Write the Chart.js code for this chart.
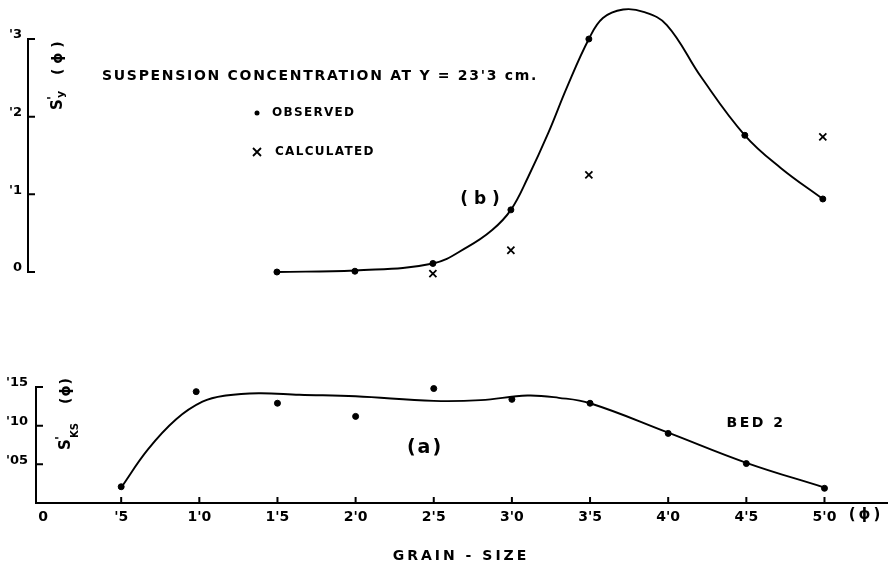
<!DOCTYPE html>
<html>
<head>
<meta charset="utf-8">
<script src="https://cdn.jsdelivr.net/npm/chart.js@4.4.1/dist/chart.umd.min.js"></script>
<style>
  body { margin: 0; background: #fff; }
  #wrap { position: relative; width: 892px; height: 568px; }
  canvas { position: absolute; left: 0; }
  #suspChart { top: 0; }
  #bedChart { top: 300px; }
</style>
</head>
<body>
<div id="wrap">
  <canvas id="suspChart" width="892" height="300"></canvas>
  <canvas id="bedChart" width="892" height="268"></canvas>
</div>
<script>
// (b) suspension concentration at y = 23.3 cm
const suspGrain = [1.5, 2.0, 2.5, 3.0, 3.5, 4.0, 4.5, 5.0];
const suspObserved = [0.000, 0.001, 0.011, 0.080, 0.300, 0.318, 0.176, 0.094];
const calcGrain = [2.5, 3.0, 3.5, 4.0, 4.5, 5.0];
const suspCalculated = [-0.002, 0.028, 0.125, 0.330, 0.313, 0.174];
// hand drawn curve of (b)
const suspCurveX = [1.5, 2.0, 2.5, 2.72, 2.88, 3.0, 3.11, 3.24, 3.36, 3.5, 3.59, 3.72, 3.85, 4.0, 4.22, 4.5, 4.73, 5.0];
const suspCurveY = [0.000, 0.002, 0.011, 0.032, 0.054, 0.080, 0.122, 0.179, 0.238, 0.300, 0.327, 0.338, 0.335, 0.318, 0.251, 0.176, 0.134, 0.094];

// (a) bed 2
const bedGrain = [0.5, 0.98, 1.5, 2.0, 2.5, 3.0, 3.5, 4.0, 4.5, 5.0];
const bedObserved = [0.021, 0.144, 0.129, 0.112, 0.148, 0.134, 0.129, 0.090, 0.051, 0.019];
// hand drawn curve of (a)
const bedCurveX = [0.5, 0.67, 0.85, 1.02, 1.17, 1.38, 1.64, 2.0, 2.5, 2.8, 3.1, 3.3, 3.5, 4.0, 4.5, 5.0];
const bedCurveY = [0.020, 0.069, 0.108, 0.131, 0.139, 0.142, 0.140, 0.138, 0.132, 0.133, 0.139, 0.136, 0.129, 0.091, 0.052, 0.020];

// tick labels
const xTicks = [0, 0.5, 1.0, 1.5, 2.0, 2.5, 3.0, 3.5, 4.0, 4.5, 5.0];
const xTickLabels = ['0', "'5", "1'0", "1'5", "2'0", "2'5", "3'0", "3'5", "4'0", "4'5", "5'0"];
const suspTicks = [0, 0.1, 0.2, 0.3];
const suspTickLabels = ['0', "'1", "'2", "'3"];
const bedTicks = [0.05, 0.10, 0.15];
const bedTickLabels = ["'05", "'10", "'15"];

const FONT = '"DejaVu Sans", sans-serif';

function pts(xs, ys) {
    return xs.map((x, i) => ({ x: x, y: ys[i] }));
}

// short tick marks drawn inward from the axis lines
const inwardTicks = {
    id: 'inwardTicks',
    afterDraw(chart, args, opts) {
        const ctx = chart.ctx;
        const area = chart.chartArea;
        ctx.save();
        ctx.strokeStyle = '#000';
        ctx.lineWidth = 2;
        ctx.beginPath();
        const ys = chart.scales.y;
        ys.ticks.forEach(t => {
            const py = ys.getPixelForValue(t.value);
            ctx.moveTo(area.left, py);
            ctx.lineTo(area.left + 7, py);
        });
        if (opts.xAxis) {
            const xs = chart.scales.x;
            xs.ticks.forEach(t => {
                if (t.value === 0) return;
                const px = xs.getPixelForValue(t.value);
                ctx.moveTo(px, area.bottom);
                ctx.lineTo(px, area.bottom - 6);
            });
        }
        ctx.stroke();
        ctx.restore();
    }
};

// free text of the figure
const notes = {
    id: 'notes',
    afterDraw(chart, args, opts) {
        const ctx = chart.ctx;
        ctx.save();
        ctx.fillStyle = '#000';
        ctx.strokeStyle = '#000';
        ctx.textBaseline = 'middle';
        opts.items.forEach(it => {
            ctx.font = 'bold ' + it.size + 'px ' + FONT;
            ctx.letterSpacing = (it.spacing || 0) + 'px';
            ctx.textAlign = it.align || 'left';
            if (it.rotate) {
                ctx.save();
                ctx.translate(it.x, it.y);
                ctx.rotate(-Math.PI / 2);
                it.parts.forEach(p => {
                    ctx.font = 'bold ' + p.size + 'px ' + FONT;
                    ctx.letterSpacing = (p.spacing || 0) + 'px';
                    ctx.textAlign = 'left';
                    ctx.fillText(p.text, p.dx, p.dy);
                });
                ctx.restore();
            } else {
                ctx.fillText(it.text, it.x, it.y);
            }
        });
        (opts.marks || []).forEach(m => {
            ctx.beginPath();
            if (m.type === 'dot') {
                ctx.arc(m.x, m.y, 2.5, 0, Math.PI * 2);
                ctx.fill();
            } else {
                ctx.lineWidth = 1.8;
                ctx.moveTo(m.x - 4, m.y - 4); ctx.lineTo(m.x + 4, m.y + 4);
                ctx.moveTo(m.x + 4, m.y - 4); ctx.lineTo(m.x - 4, m.y + 4);
                ctx.stroke();
            }
        });
        ctx.restore();
    }
};

Chart.register(inwardTicks, notes);

// x = 0 sits near 43px, about 156px per phi unit, on both panels
new Chart(document.getElementById('suspChart'), {
    type: 'scatter',
    data: {
        datasets: [
            {
                data: pts(suspCurveX, suspCurveY),
                showLine: true,
                tension: 0.4,
                borderColor: '#000',
                borderWidth: 1.9,
                pointRadius: 0,
                clip: false
            },
            {
                data: pts(suspGrain, suspObserved),
                pointStyle: 'circle',
                pointRadius: 3,
                backgroundColor: '#000',
                borderColor: '#000',
                clip: false
            },
            {
                data: pts(calcGrain, suspCalculated),
                pointStyle: 'crossRot',
                pointRadius: 5,
                borderWidth: 1.8,
                borderColor: '#000',
                clip: false
            }
        ]
    },
    options: {
        responsive: false,
        animation: false,
        devicePixelRatio: 1,
        layout: { padding: { top: 39, bottom: 28, right: 0, left: 0 } },
        plugins: {
            legend: { display: false },
            tooltip: { enabled: false },
            inwardTicks: { xAxis: false },
            notes: {
                items: [
                    { text: "SUSPENSION CONCENTRATION AT Y = 23'3 cm.", x: 102, y: 76, size: 14, spacing: 1.7 },
                    { text: 'OBSERVED', x: 272, y: 113, size: 12, spacing: 1.3 },
                    { text: 'CALCULATED', x: 275, y: 152, size: 12, spacing: 1.3 },
                    { text: '( b )', x: 480, y: 200, size: 17, align: 'center' },
                    { rotate: true, x: 58, y: 110, size: 14, parts: [
                        { text: 'S', dx: 0, dy: 0, size: 15 },
                        { text: "'", dx: 10, dy: -5, size: 13 },
                        { text: 'y', dx: 12, dy: 3, size: 11 },
                        { text: '( \u03d5 )', dx: 35, dy: 0, size: 14 }
                    ] }
                ],
                marks: [
                    { type: 'dot', x: 257, y: 113 },
                    { type: 'cross', x: 257, y: 152 }
                ]
            }
        },
        scales: {
            x: {
                type: 'linear',
                display: false,
                min: -0.096,
                max: 5.40
            },
            y: {
                min: 0,
                max: 0.3,
                afterFit: s => { s.width = 28; },
                afterBuildTicks: s => { s.ticks = suspTicks.map(v => ({ value: v })); },
                grid: { display: false, drawTicks: false },
                border: { display: true, color: '#000', width: 2 },
                ticks: {
                    padding: 6,
                    labelOffset: -4,
                    color: '#000',
                    font: { family: FONT, size: 13, weight: 'bold' },
                    callback: v => suspTickLabels[suspTicks.indexOf(v)]
                }
            }
        }
    }
});

new Chart(document.getElementById('bedChart'), {
    type: 'scatter',
    data: {
        datasets: [
            {
                data: pts(bedCurveX, bedCurveY),
                showLine: true,
                tension: 0.4,
                borderColor: '#000',
                borderWidth: 1.9,
                pointRadius: 0,
                clip: false
            },
            {
                data: pts(bedGrain, bedObserved),
                pointStyle: 'circle',
                pointRadius: 3,
                backgroundColor: '#000',
                borderColor: '#000',
                clip: false
            }
        ]
    },
    options: {
        responsive: false,
        animation: false,
        devicePixelRatio: 1,
        layout: { padding: { top: 87, bottom: 0, right: 0, left: 0 } },
        plugins: {
            legend: { display: false },
            tooltip: { enabled: false },
            inwardTicks: { xAxis: true },
            notes: {
                items: [
                    { text: '(a)', x: 425, y: 148, size: 19, spacing: 2, align: 'center' },
                    { text: 'BED 2', x: 756, y: 123, size: 14, spacing: 2.5, align: 'center' },
                    { text: '(\u03d5)', x: 866, y: 215, size: 15, spacing: 3, align: 'center' },
                    { text: 'GRAIN - SIZE', x: 461, y: 256, size: 14, spacing: 3, align: 'center' },
                    { rotate: true, x: 66, y: 150, size: 14, parts: [
                        { text: 'S', dx: 0, dy: 0, size: 15 },
                        { text: "'", dx: 10, dy: -5, size: 13 },
                        { text: 'KS', dx: 12, dy: 9, size: 10 },
                        { text: '(\u03d5)', dx: 46, dy: 0, size: 14, spacing: 1 }
                    ] }
                ]
            }
        },
        scales: {
            x: {
                type: 'linear',
                min: -0.045,
                max: 5.40,
                afterFit: s => { s.height = 65; },
                afterBuildTicks: s => { s.ticks = xTicks.map(v => ({ value: v })); },
                grid: { display: false, drawTicks: false },
                border: { display: true, color: '#000', width: 2 },
                ticks: {
                    padding: 6,
                    autoSkip: false,
                    maxRotation: 0,
                    color: '#000',
                    font: { family: FONT, size: 14, weight: 'bold' },
                    callback: v => xTickLabels[xTicks.indexOf(v)]
                }
            },
            y: {
                min: 0,
                max: 0.15,
                afterFit: s => { s.width = 36; },
                afterBuildTicks: s => { s.ticks = bedTicks.map(v => ({ value: v })); },
                grid: { display: false, drawTicks: false },
                border: { display: true, color: '#000', width: 2 },
                ticks: {
                    padding: 8,
                    labelOffset: -4,
                    color: '#000',
                    font: { family: FONT, size: 13, weight: 'bold' },
                    callback: v => bedTickLabels[bedTicks.indexOf(v)]
                }
            }
        }
    }
});
</script>
</body>
</html>
